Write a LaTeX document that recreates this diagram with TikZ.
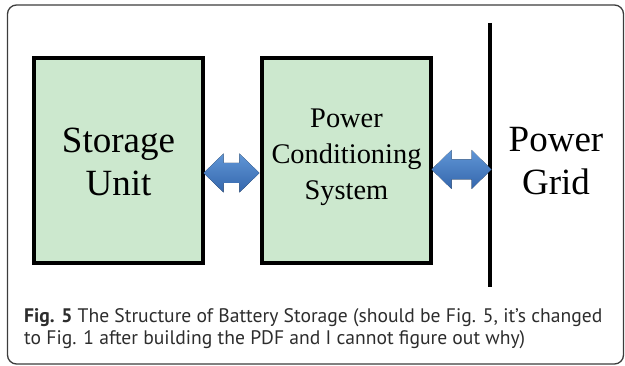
\documentclass[tikz,border=0pt]{standalone}
\usepackage{fontspec}
\setmainfont{Liberation Serif}
\newfontfamily\capfont{PT Sans}
\usetikzlibrary{calc}
\definecolor{boxgreen}{RGB}{204,232,206}
\definecolor{arrowtop}{RGB}{96,150,214}
\definecolor{arrowbot}{RGB}{52,102,172}
\definecolor{framegray}{RGB}{60,60,60}
\definecolor{captext}{RGB}{45,45,45}
\newcommand\dblarrowpath[2]{% left coordinate, right coordinate
  \fill[top color=arrowtop, bottom color=arrowbot]
    (#1) -- ([shift={(20,-19.5)}]#1) -- ([shift={(20,-10)}]#1) -- ([shift={(-20,-10)}]#2)
    -- ([shift={(-20,-19.5)}]#2) -- (#2) -- ([shift={(-20,19.5)}]#2) -- ([shift={(-20,10)}]#2)
    -- ([shift={(20,10)}]#1) -- ([shift={(20,19.5)}]#1) -- cycle;}
\begin{document}
\begin{tikzpicture}[x=1pt,y=-1pt,
  blockbox/.style={draw=black, line width=3.2pt, fill=boxgreen, inner sep=0pt,
    minimum width=169pt, minimum height=205pt},
  bigtext/.style={font=\rmfamily\fontsize{37}{43}\selectfont, align=center, inner sep=0pt},
  midtext/.style={font=\rmfamily\fontsize{28.4}{36}\selectfont, align=center, inner sep=0pt},
  gridline/.style={line width=4pt, black},
  captionstyle/.style={font=\capfont\fontsize{19.6}{22}\selectfont, text=captext, inner sep=0pt}]
\useasboundingbox (0,0) rectangle (625,366);
\draw[framegray, line width=1.3pt, rounded corners=9pt] (7.5,5) rectangle (623.5,364);
% boxes
\node[blockbox] (su) at (118.5,160.5) {};
\node[blockbox] (pcs) at (346.5,160.5) {};
\node[bigtext] (sutext) at (118.5,161.5) {Storage\\Unit};
\node[midtext] (pcstext) at (346.5,157.5) {Power\\Conditioning\\System};
% grid line
\coordinate (gtop) at (489.5,23);
\coordinate (gbot) at (489.5,287);
\draw[gridline] (gtop) -- (gbot);
\node[bigtext] (gridtext) at (556,161) {Power\\Grid};
% arrows
\coordinate (a1) at ([xshift=-1pt]su.east |- 0,173);
\coordinate (a2) at ([xshift=-1pt]pcs.west |- 0,173);
\coordinate (b1) at ([xshift=-1pt]pcs.east |- 0,169.5);
\coordinate (b2) at ([xshift=2pt]gtop |- 0,169.5);
\dblarrowpath{a1}{a2}
\dblarrowpath{b1}{b2}
% caption
\node[captionstyle, anchor=base west] (cap1) at (24,322.5)
  {\textbf{Fig. 5} The Structure of Battery Storage (should be Fig. 5, it’s changed};
\node[captionstyle, anchor=base west] (cap2) at (24,344.5)
  {to Fig. 1 after building the PDF and I cannot figure out why)};
\end{tikzpicture}
\end{document}
